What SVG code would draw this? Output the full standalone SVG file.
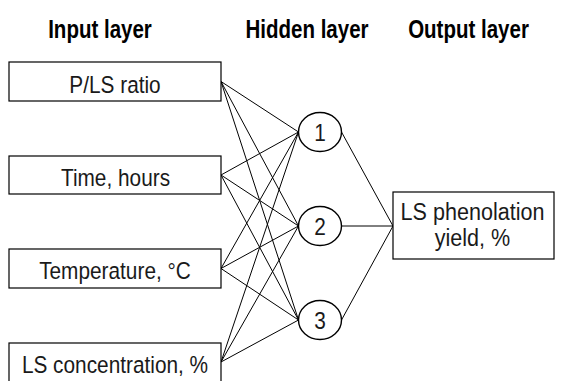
<svg xmlns="http://www.w3.org/2000/svg" width="561" height="381" viewBox="0 0 561 381">
  <style>
    .box { fill: #fff; stroke: #000; stroke-width: 1.2; }
    .node { fill: #fff; stroke: #000; stroke-width: 1.4; }
    .lbl { font-family: "Liberation Sans", Arial, sans-serif; font-size: 24.5px; fill: #1a1a1a; text-anchor: middle; }
    .title { font-family: "Liberation Sans", Arial, sans-serif; font-size: 25px; font-weight: bold; fill: #000; text-anchor: middle; }
    .edges line { stroke: #000; stroke-width: 1; }
  </style>
  <rect width="561" height="381" fill="#fff"/>

  <!-- column headings (narrowed horizontally) -->
  <g id="titles">
    <text class="title" transform="translate(100,37.5) scale(0.82,1)">Input layer</text>
    <text class="title" transform="translate(307,37.5) scale(0.82,1)">Hidden layer</text>
    <text class="title" transform="translate(468.5,37.5) scale(0.82,1)">Output layer</text>
  </g>

  <!-- weighted connections -->
  <g id="connectors" class="edges">
    <line x1="221" y1="81.5" x2="298.5" y2="132"/>
    <line x1="221" y1="81.5" x2="298.5" y2="226"/>
    <line x1="221" y1="81.5" x2="298.5" y2="320"/>
    <line x1="221" y1="175" x2="298.5" y2="132"/>
    <line x1="221" y1="175" x2="298.5" y2="226"/>
    <line x1="221" y1="175" x2="298.5" y2="320"/>
    <line x1="221" y1="268.5" x2="298.5" y2="132"/>
    <line x1="221" y1="268.5" x2="298.5" y2="226"/>
    <line x1="221" y1="268.5" x2="298.5" y2="320"/>
    <line x1="221" y1="362" x2="298.5" y2="132"/>
    <line x1="221" y1="362" x2="298.5" y2="226"/>
    <line x1="221" y1="362" x2="298.5" y2="320"/>
    <line x1="341.5" y1="132" x2="393" y2="226"/>
    <line x1="341.5" y1="226" x2="393" y2="226"/>
    <line x1="341.5" y1="320" x2="393" y2="226"/>
  </g>

  <!-- input layer -->
  <g id="in1">
    <rect class="box" x="9" y="62" width="212" height="39"/>
    <text class="lbl" transform="translate(115,92.5) scale(0.85,1)">P/LS ratio</text>
  </g>
  <g id="in2">
    <rect class="box" x="9" y="156" width="212" height="38"/>
    <text class="lbl" transform="translate(115.5,186) scale(0.85,1)">Time, hours</text>
  </g>
  <g id="in3">
    <rect class="box" x="9" y="249" width="212" height="39"/>
    <text class="lbl" transform="translate(115,279.3) scale(0.85,1)">Temperature, °C</text>
  </g>
  <g id="in4">
    <rect class="box" x="9" y="343" width="212" height="40"/>
    <text class="lbl" transform="translate(115,373) scale(0.85,1)">LS concentration, %</text>
  </g>

  <!-- hidden layer -->
  <g id="h1">
    <ellipse class="node" cx="320" cy="132" rx="21.5" ry="19.5"/>
    <text class="lbl" transform="translate(320,140.5) scale(0.85,1)">1</text>
  </g>
  <g id="h2">
    <ellipse class="node" cx="320" cy="226" rx="21.5" ry="19.5"/>
    <text class="lbl" transform="translate(320,234.5) scale(0.85,1)">2</text>
  </g>
  <g id="h3">
    <ellipse class="node" cx="320" cy="320" rx="21.5" ry="19.5"/>
    <text class="lbl" transform="translate(320,328.5) scale(0.85,1)">3</text>
  </g>

  <!-- output layer -->
  <g id="out">
    <rect class="box" x="393" y="192" width="161" height="67"/>
    <text class="lbl" transform="translate(472.5,220) scale(0.88,1)">LS phenolation</text>
    <text class="lbl" transform="translate(472.5,245.5) scale(0.88,1)">yield, %</text>
  </g>
</svg>
